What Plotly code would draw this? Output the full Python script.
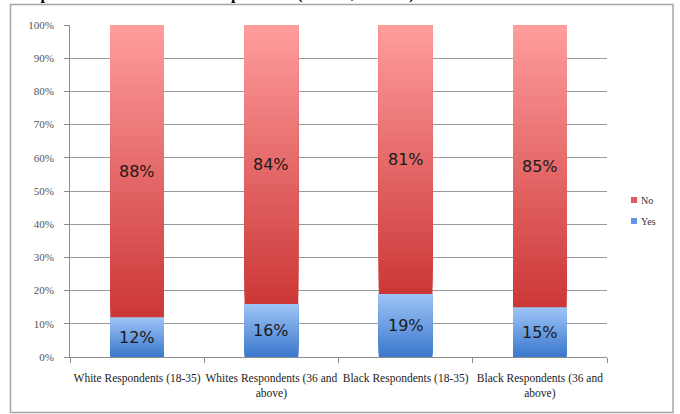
import plotly.graph_objects as go

# Survey responses by group (percent of respondents)
categories = [
    "White Respondents (18-35)",
    "Whites Respondents (36 and<br>above)",
    "Black Respondents (18-35)",
    "Black Respondents (36 and<br>above)",
]
yes_values = [12, 16, 19, 15]
no_values = [88, 84, 81, 85]
y_ticks = [0, 10, 20, 30, 40, 50, 60, 70, 80, 90, 100]
series_names = ["No", "Yes"]

# Vertical gradient colours for each series (bottom -> top)
YES_BOTTOM, YES_TOP = (60, 120, 205), (158, 196, 246)
NO_BOTTOM, NO_TOP = (204, 56, 56), (255, 156, 156)
SWATCH = {"No": "rgb(226,90,90)", "Yes": "rgb(100,150,225)"}
SLICES = 40

W, H = 680, 414
ML, MR, MT, MB = 70, 73, 25, 57
PW, PH = W - ML - MR, H - MT - MB


def mix(c0, c1, t):
    return "rgb(%d,%d,%d)" % tuple(round(a + (b - a) * t) for a, b in zip(c0, c1))


fig = go.Figure()


def gradient_segment(bases, heights, c_bottom, c_top):
    # each slice runs from its own start up to the segment top; later slices
    # are drawn over earlier ones, giving a seamless vertical gradient
    for k in range(SLICES):
        t = k / (SLICES - 1)
        starts = [b + h * k / SLICES for b, h in zip(bases, heights)]
        spans = [b + h - s for b, h, s in zip(bases, heights, starts)]
        fig.add_trace(go.Bar(
            x=categories, y=spans, base=starts,
            marker=dict(color=mix(c_bottom, c_top, t), line=dict(width=0)),
            width=0.4, showlegend=False, hoverinfo="skip",
        ))


gradient_segment([0] * len(categories), yes_values, YES_BOTTOM, YES_TOP)
gradient_segment(yes_values, no_values, NO_BOTTOM, NO_TOP)

# value labels centred in each segment
for cat, y, n in zip(categories, yes_values, no_values):
    fig.add_annotation(x=cat, y=y / 2, text=f"{y}%", showarrow=False,
                       font=dict(family="DejaVu Sans", size=16, color="#1a1a1a"))
    fig.add_annotation(x=cat, y=y + n / 2, text=f"{n}%", showarrow=False,
                       font=dict(family="DejaVu Sans", size=16, color="#1a1a1a"))


def px_x(p):
    return (p - ML) / PW


def px_y(p):
    return (MT + PH - p) / PH


# compact key: small square swatch followed by the series name
for i, name in enumerate(series_names):
    cy = 200 + 21 * i
    fig.add_shape(type="rect", xref="paper", yref="paper",
                  x0=px_x(631), x1=px_x(637), y0=px_y(cy + 3), y1=px_y(cy - 3),
                  fillcolor=SWATCH[name], line=dict(width=0))
    fig.add_annotation(xref="paper", yref="paper", x=px_x(639), y=px_y(cy),
                       xanchor="left", yanchor="middle", showarrow=False,
                       text=name,
                       font=dict(family="Liberation Serif", size=10, color="#333"))

# frame around the chart
fig.add_shape(type="rect", xref="paper", yref="paper",
              x0=px_x(10.5), x1=px_x(673), y0=px_y(412.5), y1=px_y(4.5),
              line=dict(color="#a6a6a6", width=1.5), layer="below")

# heading above the frame
fig.add_annotation(xref="paper", yref="paper", x=px_x(11), y=px_y(-6),
                   xanchor="left", yanchor="middle", showarrow=False,
                   text="<b>Graph 12: White and Black Respondents (Sect 12, Wave 3)</b>",
                   font=dict(family="Liberation Serif", size=16, color="#000"))

fig.update_layout(
    width=W, height=H,
    margin=dict(l=ML, r=MR, t=MT, b=MB, autoexpand=False),
    paper_bgcolor="white", plot_bgcolor="white",
    barmode="overlay", showlegend=False,
    xaxis=dict(
        type="category", tickson="boundaries", ticks="outside", ticklen=5,
        tickcolor="#8c8c8c", showline=True, linecolor="#8c8c8c", linewidth=1,
        showgrid=False, tickangle=0, automargin=False, ticklabelstandoff=10,
        tickfont=dict(family="Liberation Serif", size=11.5, color="#222"),
    ),
    yaxis=dict(
        range=[0, 100], tickvals=y_ticks,
        ticktext=[f"{v}%" for v in y_ticks], automargin=False,
        ticks="outside", ticklen=5, tickcolor="#8c8c8c", ticklabelstandoff=8,
        showline=True, linecolor="#8c8c8c", linewidth=1,
        showgrid=True, gridcolor="#9a9a9a", gridwidth=1, zeroline=False,
        tickfont=dict(family="Liberation Serif", size=11, color="#555"),
    ),
)

fig.write_html("out.html")
